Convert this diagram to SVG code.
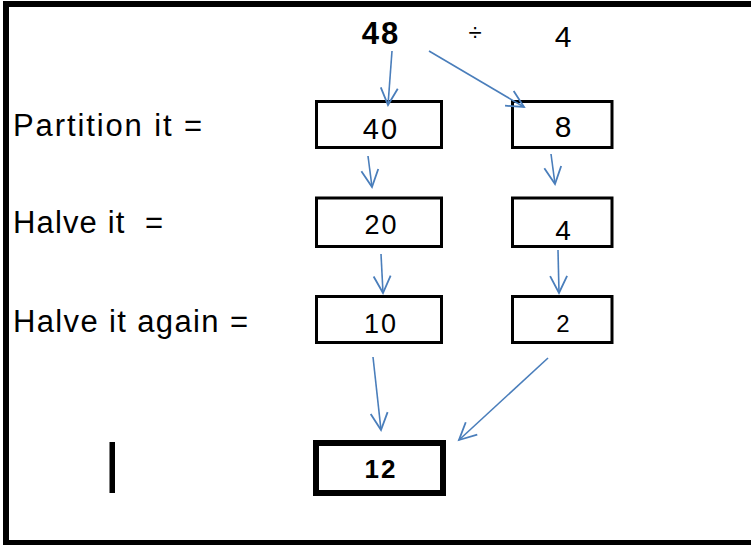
<svg xmlns="http://www.w3.org/2000/svg" width="751" height="545" viewBox="0 0 751 545">
<defs>
<style>
.lbl{font-family:"Liberation Sans",Arial,sans-serif;font-size:31px;fill:#000}
.num{font-family:"Liberation Sans",Arial,sans-serif;fill:#000;text-anchor:middle}
.box{fill:#fff;stroke:#000;stroke-width:3}
.conn{fill:none;stroke:#4A7EBB;stroke-width:1.6;marker-end:url(#arr)}
</style>
<marker id="arr" markerUnits="userSpaceOnUse" markerWidth="40" markerHeight="40" refX="0" refY="0" viewBox="-20 -20 40 40" orient="auto" overflow="visible">
<path d="M-17,-8.5 L0,0 L-17,8.5" fill="none" stroke="#4A7EBB" stroke-width="1.8"/>
</marker>
</defs>
<rect x="0" y="0" width="751" height="545" fill="#fff"/>
<rect x="6" y="4" width="760" height="539" fill="none" stroke="#000" stroke-width="6"/>

<g id="header">
<text class="num" x="381" y="44" font-size="31" font-weight="bold" letter-spacing="2">48</text>
<text class="num" x="475" y="41" font-size="24">÷</text>
<text class="num" x="563" y="47" font-size="30">4</text>
</g>

<g id="labels">
<text class="lbl" x="13" y="136" textLength="189" lengthAdjust="spacing">Partition it =</text>
<text class="lbl" x="13" y="233" textLength="150" lengthAdjust="spacing" xml:space="preserve">Halve it  =</text>
<text class="lbl" x="13" y="332" textLength="235" lengthAdjust="spacing">Halve it again =</text>
</g>

<g id="n40"><rect class="box" x="316.5" y="101.5" width="125" height="46"/><text class="num" x="381" y="139" font-size="29" letter-spacing="2">40</text></g>
<g id="n8"><rect class="box" x="512.5" y="101.5" width="99.5" height="46"/><text class="num" x="563" y="137" font-size="30">8</text></g>
<g id="n20"><rect class="box" x="316.5" y="198" width="125" height="48.5"/><text class="num" x="381.5" y="234" font-size="27" letter-spacing="2">20</text></g>
<g id="n4"><rect class="box" x="512.5" y="198" width="99.5" height="48.5"/><text class="num" x="563" y="240" font-size="28">4</text></g>
<g id="n10"><rect class="box" x="316.5" y="296.5" width="125" height="46"/><text class="num" x="381" y="333" font-size="27" letter-spacing="2">10</text></g>
<g id="n2"><rect class="box" x="512.5" y="296.5" width="99.5" height="46"/><text class="num" x="563" y="332" font-size="24">2</text></g>
<g id="n12"><rect x="316" y="443" width="127" height="50" fill="#fff" stroke="#000" stroke-width="6"/><text class="num" x="381" y="478" font-size="26" font-weight="bold" letter-spacing="2">12</text></g>
<g id="bar"><rect x="109.5" y="442" width="5.5" height="51" fill="#000"/></g>

<g id="connectors">
<line class="conn" x1="392" y1="51" x2="388" y2="105"/>
<line class="conn" x1="429" y1="51" x2="524" y2="107"/>
<line class="conn" x1="368" y1="156" x2="372" y2="187"/>
<line class="conn" x1="551" y1="154" x2="555" y2="184"/>
<line class="conn" x1="381" y1="254" x2="383" y2="293"/>
<line class="conn" x1="558" y1="250" x2="559" y2="293"/>
<line class="conn" x1="373" y1="357" x2="381" y2="430"/>
<line class="conn" x1="548" y1="358" x2="459" y2="440"/>
</g>
</svg>
